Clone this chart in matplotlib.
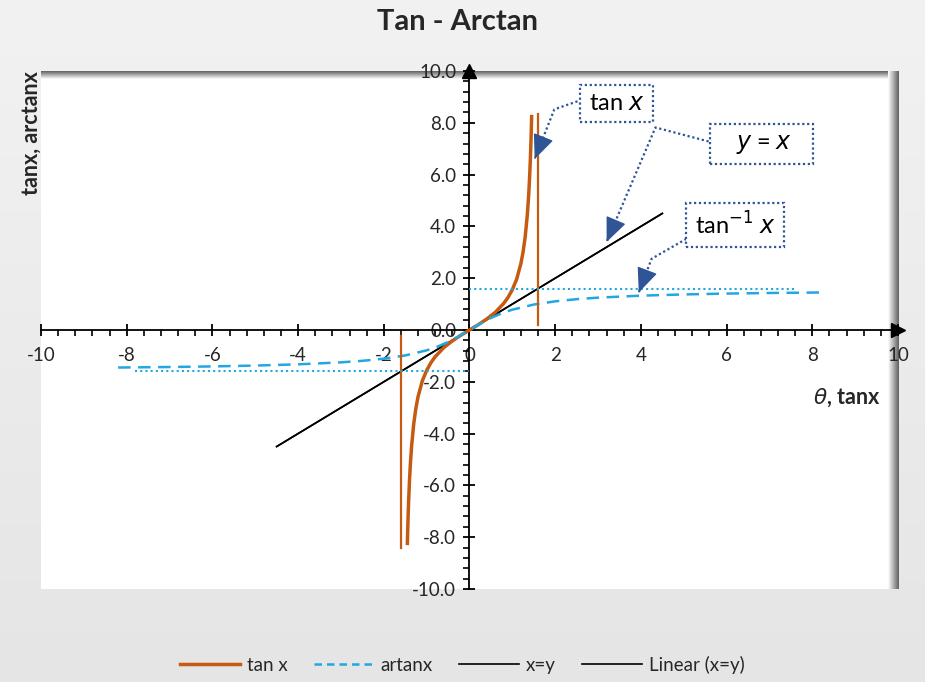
import numpy as np
import matplotlib
matplotlib.use("Agg")
import matplotlib.pyplot as plt
from matplotlib.lines import Line2D

plt.rcParams['font.family'] = ['Lato', 'DejaVu Sans']
plt.rcParams['axes.unicode_minus'] = False

# tan x
tan_x = [-1.45, -1.44, -1.43, -1.42, -1.40, -1.38, -1.35, -1.30, -1.25, -1.20, -1.10, -1.00,
         -0.90, -0.80, -0.60, -0.40, -0.20, 0.00, 0.20, 0.40, 0.60, 0.80, 0.90, 1.00, 1.10,
         1.20, 1.25, 1.30, 1.35, 1.38, 1.40, 1.42, 1.43, 1.44, 1.45]
tan_y = [-8.24, -7.60, -7.06, -6.58, -5.80, -5.18, -4.46, -3.60, -3.01, -2.57, -1.96, -1.56,
         -1.26, -1.03, -0.68, -0.42, -0.20, 0.00, 0.20, 0.42, 0.68, 1.03, 1.26, 1.56, 1.96,
         2.57, 3.01, 3.60, 4.46, 5.18, 5.80, 6.58, 7.06, 7.60, 8.24]

# arctan
atan_x = [-8.2, -7.0, -6.0, -5.0, -4.0, -3.0, -2.5, -2.0, -1.5, -1.0, -0.75, -0.5, -0.25, 0.0,
          0.25, 0.5, 0.75, 1.0, 1.5, 2.0, 2.5, 3.0, 4.0, 5.0, 6.0, 7.0, 8.2]
atan_y = [-1.449, -1.429, -1.406, -1.373, -1.326, -1.249, -1.190, -1.107, -0.983, -0.785, -0.644,
          -0.464, -0.245, 0.0, 0.245, 0.464, 0.644, 0.785, 0.983, 1.107, 1.190, 1.249, 1.326,
          1.373, 1.406, 1.429, 1.449]

# x=y and its trendline
xy_x = [-4.5, 4.5]
xy_y = [-4.5, 4.5]

# asymptote markers (pi/2)
vline_x = [1.59, -1.59]
vline_lo = [0.2, -8.4]
vline_hi = [8.35, -0.25]
hline_y = [1.5708, -1.5708]
hline_x0 = [0.0, -7.8]
hline_x1 = [7.6, 0.0]

# callout leaders: (start, bend, tip)
leaders = [((2.52, 8.83), (1.98, 8.52), (1.52, 6.6)),
           ((5.58, 7.28), (4.34, 7.82), (3.2, 3.4)),
           ((5.06, 3.52), (4.25, 2.75), (3.95, 1.45))]

orange = '#C55A11'
blue = '#22A7E3'
navy = '#2F5597'
txt = '#262626'

fig = plt.figure(figsize=(9.25, 6.82), dpi=100)
fig.patch.set_facecolor('#e8e8e8')

# soft background gradient (lighter at top)
bg = fig.add_axes([0, 0, 1, 1], zorder=-5)
bg.imshow(np.linspace(0.895, 0.945, 100).reshape(-1, 1), extent=(0, 1, 0, 1), cmap='gray',
          vmin=0, vmax=1, aspect='auto', origin='lower')
bg.axis('off')

ax = fig.add_axes([41/925, 1-589/682, 857/925, 518/682])
ax.set_facecolor('white')
ax.set_xlim(-10, 10)
ax.set_ylim(-10, 10)

# inner shadow at top and right edge of plot area
grad = np.linspace(0, 1, 50).reshape(-1, 1)
ax.imshow(grad, extent=(0, 1, 0.985, 1.0), transform=ax.transAxes, cmap='gray',
          vmin=-0.6, vmax=1, aspect='auto', zorder=0.5, origin='upper')
ax.imshow(grad.T[:, ::-1], extent=(0.988, 1.0, 0, 1.0), transform=ax.transAxes, cmap='gray',
          vmin=-0.6, vmax=1, aspect='auto', zorder=0.5)

for s in ['top', 'right']:
    ax.spines[s].set_visible(False)
ax.spines['left'].set_position(('data', 0))
ax.spines['bottom'].set_position(('data', 0))
for s in ['left', 'bottom']:
    ax.spines[s].set_linewidth(1.3)
    ax.spines[s].set_color('black')

ax.set_xticks(np.arange(-10, 11, 2))
ax.set_xticks(np.arange(-10, 10.01, 0.4), minor=True)
ax.set_yticks(np.arange(-10, 11, 2))
ax.set_yticks(np.arange(-10, 10.01, 0.4), minor=True)
ax.set_yticklabels(['%.1f' % v for v in np.arange(-10, 11, 2)])
ax.tick_params(which='major', direction='inout', length=9, width=1.3, labelsize=13.5,
               labelcolor=txt)
ax.tick_params(axis='x', which='major', pad=8)
ax.tick_params(axis='y', which='major', pad=5)
ax.tick_params(which='minor', direction='out', length=4, width=1.2)

# axis arrow heads
ax.plot(1, 0, '>k', ms=10, transform=ax.get_yaxis_transform(), clip_on=False)
ax.plot(0, 1, '^k', ms=10, transform=ax.get_xaxis_transform(), clip_on=False)

ax.plot(tan_x, tan_y, color=orange, lw=2.5, zorder=4)
ax.plot(atan_x, atan_y, color=blue, lw=1.8, ls=(0, (5, 3)), zorder=4)
ax.plot(xy_x, xy_y, color='black', lw=1.2, zorder=3)
ax.plot(xy_x, xy_y, color='black', lw=1.2, zorder=3)
for vx, lo, hi in zip(vline_x, vline_lo, vline_hi):
    ax.plot([vx, vx], [lo, hi], color=orange, lw=1.6, zorder=4)
for hy, a, b in zip(hline_y, hline_x0, hline_x1):
    ax.plot([a, b], [hy, hy], color=blue, lw=1.5, ls=(0, (1, 1.5)), zorder=4)

# callouts
box = dict(boxstyle='square,pad=0.35', fc='white', ec=navy, ls=(0, (1, 1.2)), lw=1.6)
ax.text(3.43, 8.75, r'tan $x$', fontsize=17, ha='center', va='center', bbox=box, zorder=6)
ax.text(6.81, 7.18, r'   $y$ = $x$   ', fontsize=17, ha='center', va='center', bbox=box, zorder=6)
ax.text(6.2, 4.05, r'tan$^{-1}$ $x$', fontsize=17, ha='center', va='center', bbox=box, zorder=6)

for (p0, p1, tip) in leaders:
    ax.plot([p0[0], p1[0], tip[0]], [p0[1], p1[1], tip[1]], color=navy, lw=1.6,
            ls=(0, (1, 1.2)), zorder=5)
    back = (tip[0] + 0.02 * (p1[0] - tip[0]), tip[1] + 0.02 * (p1[1] - tip[1]))
    ax.annotate('', xy=tip, xytext=back, zorder=5,
                arrowprops=dict(arrowstyle='-|>,head_length=0.7,head_width=0.3', color=navy,
                                lw=1, mutation_scale=22, shrinkA=0, shrinkB=0))

ax.text(9.6, -2.6, r'$\theta$, tanx', fontsize=15.5, fontweight='bold', ha='right', va='center',
        color=txt)
fig.text(31/925, 1-71/682, 'tanx, arctanx', rotation=90, fontsize=15.5, fontweight='bold',
         ha='center', va='top', color=txt)
fig.text(0.495, 1-22/682, 'Tan - Arctan', fontsize=21, fontweight='bold', ha='center',
         va='center', color=txt)

handles = [Line2D([], [], color=orange, lw=2.5),
           Line2D([], [], color=blue, lw=1.8, ls=(0, (3, 2))),
           Line2D([], [], color='black', lw=1.2),
           Line2D([], [], color='black', lw=1.2)]
fig.legend(handles, ['tan x', 'artanx', 'x=y', 'Linear (x=y)'], loc='center',
           bbox_to_anchor=(0.5, 1-665/682), ncol=4, frameon=False, fontsize=13.5,
           handlelength=3.2, handletextpad=0.37, columnspacing=1.4, labelcolor=txt)

fig.savefig('out.png', dpi=100, facecolor=fig.get_facecolor())
